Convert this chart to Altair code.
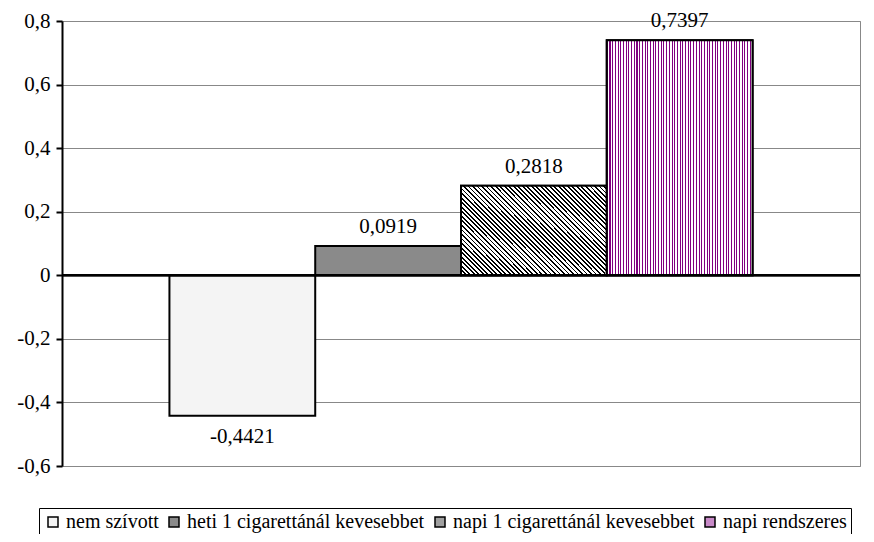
import altair as alt
import pandas as pd

categories = ["nem szívott", "heti 1 cigarettánál kevesebbet",
              "napi 1 cigarettánál kevesebbet", "napi rendszeres"]
values = [-0.4421, 0.0919, 0.2818, 0.7397]
y_ticks = [-0.6, -0.4, -0.2, 0.0, 0.2, 0.4, 0.6, 0.8]
legend_colors = ["#f4f4f4", "#8a8a8a", "#a0a0a0", "#c88ac8"]

FONT = "Liberation Serif"
FS = 21
LFS = 20

df = pd.DataFrame({
    "cat": categories,
    "val": values,
    "label": [f"{v:.4f}".replace(".", ",") for v in values],
})


def stripes(n, c1, c2, frac, x1, y1, x2, y2):
    stops = []
    for i in range(n):
        a = i / n
        b = (i + frac) / n
        c = (i + 1) / n
        stops += [
            {"offset": a, "color": c1}, {"offset": b, "color": c1},
            {"offset": b, "color": c2}, {"offset": c, "color": c2},
        ]
    return {"gradient": "linear", "x1": x1, "y1": y1, "x2": x2, "y2": y2,
            "stops": stops}


# vertical purple lines
grad4 = stripes(54, "#800080", "#ffffff", 0.38, 0, 0, 1, 0)
# diagonal hatch (about 45 deg in pixel space for a ~146x90 box)
grad3 = stripes(52, "#000000", "#ffffff", 0.4, 0, 1, 1.1735, 0.284)

x_enc = alt.X("cat:N", sort=categories, axis=None,
              scale=alt.Scale(paddingInner=0, paddingOuter=0.737))
y_enc = alt.Y("val:Q", title=None,
              scale=alt.Scale(domain=[-0.6, 0.8], nice=False, zero=False),
              axis=alt.Axis(values=y_ticks, grid=True, gridColor="#888888",
                            gridWidth=1, domainColor="black", domainWidth=2,
                            tickColor="black", tickWidth=2, tickSize=6,
                            labelFont=FONT, labelFontSize=FS, labelColor="black",
                            labelPadding=6,
                            labelExpr="datum.value == 0 ? '0' : replace(replace(format(datum.value, '.1f'), '.', ','), '\u2212', '-')"))

base = alt.Chart(df)

bars = base.mark_bar(stroke="black", strokeWidth=2).encode(
    x=x_enc, y=y_enc,
    color=alt.Color("cat:N", sort=categories,
                    scale=alt.Scale(domain=categories, range=legend_colors),
                    legend=alt.Legend(title=None, orient="none", direction="horizontal",
                                      legendX=-23, legendY=487, columns=4,
                                      symbolType="square", symbolSize=100,
                                      symbolStrokeColor="black", symbolStrokeWidth=1.5,
                                      symbolOpacity=1,
                                      labelFont=FONT, labelFontSize=LFS, labelColor="black",
                                      labelLimit=0, labelOffset=3, columnPadding=5,
                                      strokeColor="black", padding=4)),
)

over3 = base.transform_filter(alt.datum.cat == categories[2]).mark_bar(
    fill=grad3, stroke="black", strokeWidth=2).encode(x=x_enc, y=alt.Y("val:Q"))
over4 = base.transform_filter(alt.datum.cat == categories[3]).mark_bar(
    fill=grad4, stroke="black", strokeWidth=2).encode(x=x_enc, y=alt.Y("val:Q"))

zero = alt.Chart(df).mark_rule(color="black", strokeWidth=2).encode(y=alt.datum(0))

pos_text = base.transform_filter(alt.datum.val >= 0).mark_text(
    font=FONT, fontSize=FS, color="black", baseline="bottom", dy=-9).encode(
    x=x_enc, y=alt.Y("val:Q"), text="label:N")
neg_text = base.transform_filter(alt.datum.val < 0).mark_text(
    font=FONT, fontSize=FS, color="black", baseline="top", dy=10).encode(
    x=x_enc, y=alt.Y("val:Q"), text="label:N")

chart = alt.layer(bars, over3, over4, zero, pos_text, neg_text).properties(
    width=798, height=445,
    autosize=alt.AutoSizeParams(type="none"),
    padding={"left": 54, "top": 13, "right": 6, "bottom": 68},
    background="white",
).configure_view(stroke="#888888", strokeWidth=1
).configure_axis(labelFont=FONT, labelFontSize=FS, labelColor="black"
).configure_legend(labelFont=FONT, labelFontSize=LFS, labelColor="black"
).configure_text(font=FONT)

chart.save("out.html", embed_options={"renderer": "svg", "actions": False})
